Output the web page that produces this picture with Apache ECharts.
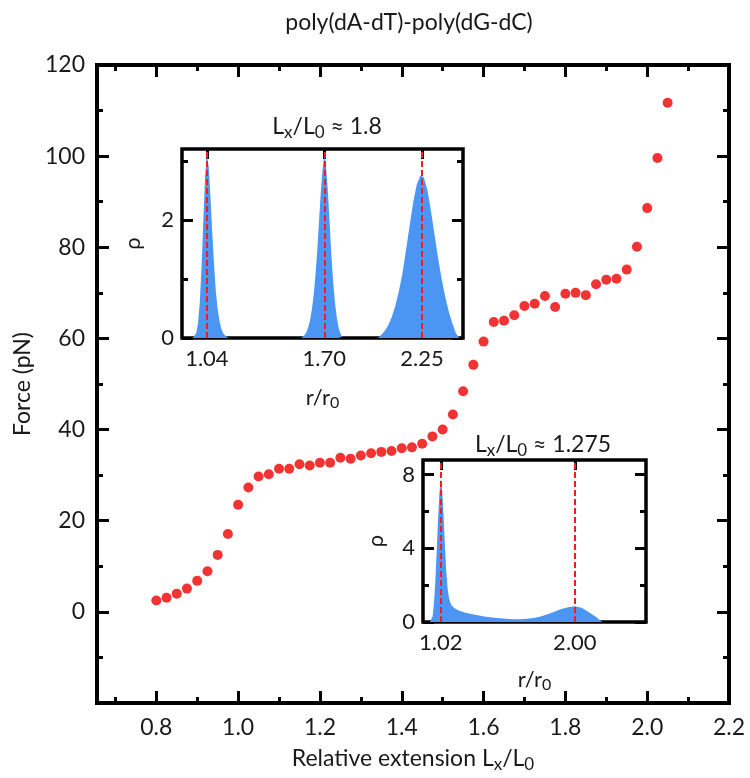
<!DOCTYPE html>
<html>
<head>
<meta charset="utf-8">
<script src="https://cdn.jsdelivr.net/npm/echarts@6/dist/echarts.min.js"></script>
<style>
html,body{margin:0;padding:0;background:#fff;}
#main{width:750px;height:778px;}
</style>
</head>
<body>
<div id="main"></div>
<script>
// main force-extension curve
var extension = [0.800,0.825,0.850,0.875,0.900,0.925,0.950,0.975,1.000,1.025,1.050,1.075,1.100,1.125,1.150,1.175,1.200,
  1.225,1.250,1.275,1.300,1.325,1.350,1.375,1.400,1.425,1.450,1.475,1.500,1.525,1.550,1.575,1.600,1.625,1.650,
  1.675,1.700,1.725,1.750,1.775,1.800,1.825,1.850,1.875,1.900,1.925,1.950,1.975,2.000,2.025,2.050];
var force = [2.5,3.1,4.0,5.1,6.8,8.9,12.5,17.1,23.5,27.3,29.7,30.2,31.4,31.4,32.4,32.1,32.7,
  32.7,33.8,33.6,34.3,34.8,35.1,35.3,35.9,36.1,36.9,38.5,40.0,43.3,48.4,54.2,59.3,63.6,63.9,
  65.1,67.1,67.6,69.3,66.9,69.8,70.0,69.5,71.9,72.9,73.1,75.1,80.1,88.6,99.6,111.7];
var xMajor = [0.8,1.0,1.2,1.4,1.6,1.8,2.0,2.2];
var xMinor = [0.7,0.9,1.1,1.3,1.5,1.7,1.9,2.1];

// inset at Lx/L0 ~ 1.8 : histogram of r/r0
var peakA = [[0.96,0],[0.97,0.02],[0.98,0.08],[0.99,0.25],[1.00,0.6],[1.01,1.2],[1.02,2.0],[1.03,2.75],[1.04,3.1],
  [1.05,2.9],[1.06,2.4],[1.07,1.8],[1.08,1.25],[1.09,0.8],[1.10,0.5],[1.11,0.3],[1.12,0.17],[1.13,0.09],
  [1.14,0.05],[1.15,0.02],[1.16,0]];
var peakB = [[1.57,0],[1.58,0.02],[1.59,0.05],[1.60,0.1],[1.61,0.18],[1.62,0.3],[1.63,0.48],[1.64,0.72],[1.65,1.05],
  [1.66,1.45],[1.67,1.95],[1.68,2.45],[1.69,2.85],[1.70,3.1],[1.71,2.9],[1.72,2.5],[1.73,1.95],[1.74,1.4],
  [1.75,0.95],[1.76,0.6],[1.77,0.35],[1.78,0.18],[1.79,0.08],[1.80,0.02],[1.81,0]];
var peakC = [[2.00,0],[2.02,0.05],[2.04,0.12],[2.06,0.22],[2.08,0.36],[2.10,0.55],[2.12,0.8],[2.14,1.1],[2.16,1.5],
  [2.18,1.9],[2.20,2.3],[2.22,2.6],[2.24,2.75],[2.26,2.72],[2.28,2.5],[2.30,2.15],[2.32,1.75],[2.34,1.35],
  [2.36,1.0],[2.38,0.7],[2.40,0.45],[2.42,0.25],[2.44,0.08],[2.46,0]];
var peaksA = [1.04, 1.70, 2.25];

// inset at Lx/L0 ~ 1.275
var histB = [[0.94,0],[0.96,0.3],[0.97,1.0],[0.98,2.2],[0.99,3.8],[1.00,5.6],[1.01,7.0],[1.02,7.8],[1.03,7.2],
  [1.04,5.8],[1.05,4.2],[1.06,2.8],[1.07,1.8],[1.08,1.3],[1.09,1.05],[1.10,0.9],[1.12,0.75],[1.15,0.62],
  [1.20,0.5],[1.25,0.42],[1.30,0.35],[1.35,0.29],[1.40,0.24],[1.45,0.2],[1.50,0.17],[1.55,0.15],[1.60,0.15],
  [1.65,0.17],[1.70,0.22],[1.75,0.3],[1.80,0.42],[1.85,0.56],[1.90,0.7],[1.95,0.8],[2.00,0.85],[2.05,0.78],
  [2.10,0.55],[2.15,0.3],[2.18,0.12],[2.20,0]];
var peaksB = [1.02, 2.00];

var font = 'Lato';
var ink = '#1a1a1a';
var blue = '#4b95f3';

var points = extension.map(function (x, i) { return [x, force[i]]; });

// rich text styles: normal + subscript
function rich(size) {
  return {
    a: {fontFamily: font, fontSize: size, fontWeight: 'normal', color: ink, verticalAlign: 'middle'},
    s: {fontFamily: font, fontSize: Math.round(size * 0.72), fontWeight: 'normal', color: ink,
      verticalAlign: 'middle', padding: [11, 0, 0, 0]}
  };
}

function tickAxis(grid, pos, min, max, ticks, len, extra) {
  var ax = {
    type: 'value', gridIndex: grid, position: pos, min: min, max: max,
    axisLine: {show: false, onZero: false}, splitLine: {show: false},
    axisTick: {show: true, inside: true, length: len, customValues: ticks,
      lineStyle: {color: '#000', width: 3}},
    axisLabel: {show: false}
  };
  if (extra) {
    for (var k in extra) ax[k] = extra[k];
  }
  return ax;
}

function label(values, digits, size, margin) {
  return {show: true, customValues: values, fontFamily: font, fontSize: size, color: ink, margin: margin,
    formatter: function (v) { return (+v).toFixed(digits); }};
}

var myChart = echarts.init(document.getElementById('main'), null, {renderer: 'canvas'});

var option = {
  backgroundColor: '#fff',
  animation: false,
  title: [
    {text: 'poly(dA-dT)-poly(dG-dC)', left: 404, top: 6, textAlign: 'center',
      textStyle: {fontFamily: font, fontSize: 23, fontWeight: 'normal', color: ink}},
    {text: '{a|L}{s|x}{a|/L}{s|0}{a| ≈ 1.8}', left: 322, top: 108, textAlign: 'center',
      textStyle: {fontWeight: 'normal', rich: rich(23)}},
    {text: '{a|L}{s|x}{a|/L}{s|0}{a| ≈ 1.275}', left: 538, top: 426, textAlign: 'center',
      textStyle: {fontWeight: 'normal', rich: rich(23)}}
  ],
  grid: [
    {left: 97, right: 21, top: 65, bottom: 75, show: true, borderColor: '#000', borderWidth: 4, backgroundColor: 'transparent'},
    {left: 182, top: 149, width: 281, height: 189, show: true, borderColor: '#000', borderWidth: 3.5, backgroundColor: '#fff'},
    {left: 423, top: 460, width: 223, height: 162, show: true, borderColor: '#000', borderWidth: 3.5, backgroundColor: '#fff'}
  ],
  xAxis: [
    tickAxis(0, 'bottom', 0.655, 2.2, xMajor, 12, {
      axisLabel: label(xMajor, 1, 23, 13),
      name: '{a|Relative extension L}{s|x}{a|/L}{s|0}', nameLocation: 'middle', nameGap: 42,
      nameTextStyle: {rich: rich(23)}
    }),
    tickAxis(0, 'bottom', 0.655, 2.2, xMinor, 6),
    tickAxis(0, 'top', 0.655, 2.2, xMajor, 12),
    tickAxis(0, 'top', 0.655, 2.2, xMinor, 6),
    tickAxis(1, 'bottom', 0.9, 2.48, peaksA, 10, {
      axisLabel: label(peaksA, 2, 22, 10),
      name: '{a|r/r}{s|0}', nameLocation: 'middle', nameGap: 46, nameTextStyle: {rich: rich(22)}
    }),
    tickAxis(1, 'top', 0.9, 2.48, peaksA, 10),
    tickAxis(2, 'bottom', 0.89, 2.52, peaksB, 10, {
      axisLabel: label(peaksB, 2, 22, 10),
      name: '{a|r/r}{s|0}', nameLocation: 'middle', nameGap: 44, nameTextStyle: {rich: rich(22)}
    }),
    tickAxis(2, 'top', 0.89, 2.52, peaksB, 10)
  ],
  yAxis: [
    {
      type: 'value', gridIndex: 0, position: 'left', min: -20, max: 120, interval: 20,
      axisLine: {show: false, onZero: false}, splitLine: {show: false},
      axisTick: {show: true, inside: true, length: 12, lineStyle: {color: '#000', width: 3}},
      minorTick: {show: true, splitNumber: 2, length: 6, lineStyle: {color: '#000', width: 3}},
      axisLabel: {fontFamily: font, fontSize: 23, color: ink, margin: 12,
        formatter: function (v) { return v < 0 ? '' : v; }},
      name: 'Force (pN)', nameLocation: 'middle', nameGap: 62,
      nameTextStyle: {fontFamily: font, fontSize: 23, color: ink}
    },
    {
      type: 'value', gridIndex: 0, position: 'right', min: -20, max: 120, interval: 20,
      axisLine: {show: false, onZero: false}, splitLine: {show: false},
      axisTick: {show: true, inside: true, length: 12, lineStyle: {color: '#000', width: 3}},
      minorTick: {show: true, splitNumber: 2, length: 6, lineStyle: {color: '#000', width: 3}},
      axisLabel: {show: false}
    },
    tickAxis(1, 'left', 0, 3.2, [0, 2], 11, {
      axisLabel: label([0, 2], 0, 22, 8),
      name: 'ρ', nameLocation: 'middle', nameGap: 38,
      nameTextStyle: {fontFamily: font, fontSize: 22, color: ink}
    }),
    tickAxis(1, 'left', 0, 3.2, [1, 3], 6),
    tickAxis(1, 'right', 0, 3.2, [0, 2], 11),
    tickAxis(1, 'right', 0, 3.2, [1, 3], 6),
    tickAxis(2, 'left', 0, 8.8, [0, 4, 8], 11, {
      axisLabel: label([0, 4, 8], 0, 22, 8),
      name: 'ρ', nameLocation: 'middle', nameGap: 36,
      nameTextStyle: {fontFamily: font, fontSize: 22, color: ink}
    }),
    tickAxis(2, 'left', 0, 8.8, [2, 6], 6),
    tickAxis(2, 'right', 0, 8.8, [0, 4, 8], 11),
    tickAxis(2, 'right', 0, 8.8, [2, 6], 6)
  ],
  series: [
    {
      type: 'scatter', xAxisIndex: 0, yAxisIndex: 0, data: points,
      symbolSize: 10, itemStyle: {color: '#ee0000'}, z: 3
    },
    {
      type: 'line', xAxisIndex: 4, yAxisIndex: 2, data: peakA, showSymbol: false,
      lineStyle: {width: 0}, areaStyle: {color: blue, opacity: 1}, z: 4
    },
    {
      type: 'line', xAxisIndex: 4, yAxisIndex: 2, data: peakB, showSymbol: false,
      lineStyle: {width: 0}, areaStyle: {color: blue, opacity: 1}, z: 4
    },
    {
      type: 'line', xAxisIndex: 4, yAxisIndex: 2, data: peakC, showSymbol: false,
      lineStyle: {width: 0}, areaStyle: {color: blue, opacity: 1}, z: 4,
      markLine: {
        silent: true, symbol: 'none', label: {show: false}, animation: false,
        lineStyle: {color: '#ff1a1a', type: [6, 3], width: 2},
        data: peaksA.map(function (v) { return {xAxis: v}; })
      }
    },
    {
      type: 'line', xAxisIndex: 6, yAxisIndex: 6, data: histB, showSymbol: false,
      lineStyle: {width: 0}, areaStyle: {color: blue, opacity: 1}, z: 4,
      markLine: {
        silent: true, symbol: 'none', label: {show: false}, animation: false,
        lineStyle: {color: '#ff1a1a', type: [6, 3], width: 2},
        data: peaksB.map(function (v) { return {xAxis: v}; })
      }
    }
  ]
};
myChart.setOption(option);
</script>
</body>
</html>
